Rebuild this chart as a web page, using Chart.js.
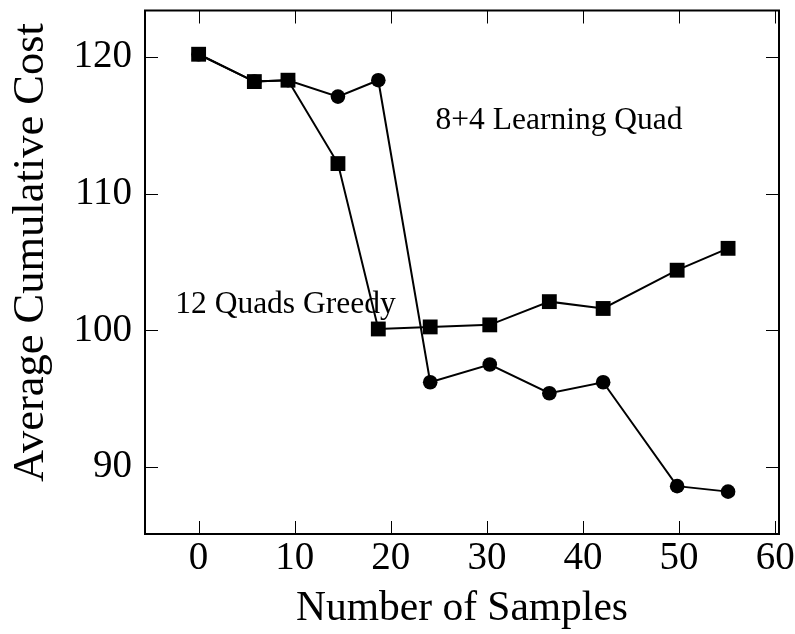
<!DOCTYPE html>
<html>
<head>
<meta charset="utf-8">
<script src="https://cdn.jsdelivr.net/npm/chart.js@4/dist/chart.umd.min.js"></script>
<style>
  html, body { margin: 0; padding: 0; background: #ffffff; }
  #wrap { width: 795px; height: 634px; }
</style>
</head>
<body>
<div id="wrap"><canvas id="cost" width="795" height="634"></canvas></div>
<script>
// Samples taken and the average cumulative cost reached by each strategy
const sampleCounts = [0, 5.8, 9.3, 14.5, 18.7, 24.1, 30.3, 36.5, 42.1, 49.8, 55.1];
const greedyCost   = [120.2, 118.2, 118.3, 112.2, 100.1, 100.25, 100.4, 102.1, 101.6, 104.4, 106.0];
const learningCost = [120.2, 118.2, 118.3, 117.1, 118.3, 96.2, 97.5, 95.4, 96.2, 88.6, 88.2];

const xTickValues = [0, 10, 20, 30, 40, 50, 60];
const yTickValues = [90, 100, 110, 120];

const seriesNames = ['12 Quads Greedy', '8+4 Learning Quad'];
const yAxisTitle = 'Average Cumulative Cost';

const SERIF = "'Liberation Serif', 'Times New Roman', serif";

function points(values) {
  return sampleCounts.map((x, i) => ({ x: x, y: values[i] }));
}

// Frame round the plot area with short inward ticks on all four sides
const framePlugin = {
  id: 'frame',
  beforeDatasetsDraw(chart) {
    const { ctx, chartArea: a, scales } = chart;
    ctx.save();
    ctx.strokeStyle = '#000';
    ctx.lineWidth = 1;
    const len = 13;
    ctx.beginPath();
    xTickValues.forEach(v => {
      const px = Math.round(scales.x.getPixelForValue(v)) + 0.5;
      ctx.moveTo(px, a.bottom); ctx.lineTo(px, a.bottom - len);
      ctx.moveTo(px, a.top); ctx.lineTo(px, a.top + len);
    });
    yTickValues.forEach(v => {
      const py = Math.round(scales.y.getPixelForValue(v)) + 0.5;
      ctx.moveTo(a.left, py); ctx.lineTo(a.left + len, py);
      ctx.moveTo(a.right, py); ctx.lineTo(a.right - len, py);
    });
    ctx.stroke();
    ctx.lineWidth = 2;
    ctx.strokeRect(a.left, a.top, a.right - a.left, a.bottom - a.top);
    ctx.restore();
  }
};

// Vertical axis title, set a little above the middle of the plot
const yTitlePlugin = {
  id: 'yTitle',
  afterDraw(chart, args, opts) {
    const { ctx } = chart;
    ctx.save();
    ctx.fillStyle = '#000';
    ctx.font = opts.font;
    ctx.translate(opts.baselineX, opts.centerY);
    ctx.rotate(-Math.PI / 2);
    ctx.textAlign = 'center';
    ctx.textBaseline = 'alphabetic';
    ctx.fillText(opts.text, 0, 0);
    ctx.restore();
  }
};

// Series names written inside the plot, anchored in data units
const notePlugin = {
  id: 'notes',
  afterDatasetsDraw(chart, args, opts) {
    const { ctx, scales } = chart;
    ctx.save();
    ctx.fillStyle = '#000';
    ctx.font = opts.font;
    ctx.textAlign = 'left';
    ctx.textBaseline = 'alphabetic';
    opts.items.forEach(n => {
      ctx.fillText(n.text, scales.x.getPixelForValue(n.x), scales.y.getPixelForValue(n.y));
    });
    ctx.restore();
  }
};

new Chart(document.getElementById('cost'), {
  type: 'line',
  data: {
    datasets: [
      {
        label: seriesNames[0],
        data: points(greedyCost),
        borderColor: '#000',
        backgroundColor: '#000',
        borderWidth: 2,
        pointStyle: 'rect',
        pointRadius: 10.5,
        pointBorderWidth: 0,
        tension: 0,
        clip: false
      },
      {
        label: seriesNames[1],
        data: points(learningCost),
        borderColor: '#000',
        backgroundColor: '#000',
        borderWidth: 2,
        pointStyle: 'circle',
        pointRadius: 7.3,
        pointBorderWidth: 0,
        tension: 0,
        clip: false
      }
    ]
  },
  options: {
    responsive: false,
    animation: false,
    devicePixelRatio: 1,
    layout: { padding: { left: 0, top: 10, right: 16, bottom: 0 } },
    plugins: {
      legend: { display: false },
      tooltip: { enabled: false },
      notes: {
        font: "31.5px " + SERIF,
        items: [
          { text: seriesNames[1], x: 24.66, y: 114.7 },
          { text: seriesNames[0], x: -2.43, y: 101.3 }
        ]
      },
      yTitle: {
        text: yAxisTitle,
        font: "44.5px " + SERIF,
        baselineX: 43,
        centerY: 252.5
      }
    },
    scales: {
      x: {
        type: 'linear',
        min: -5.58,
        max: 60.4,
        grid: { display: false, drawTicks: false },
        border: { display: false },
        afterBuildTicks: s => { s.ticks = xTickValues.map(v => ({ value: v })); },
        afterFit: s => { s.height = 100; s.paddingLeft = 0; s.paddingRight = 0; },
        ticks: {
          padding: 1,
          color: '#000',
          maxRotation: 0,
          font: { family: SERIF, size: 39 }
        },
        title: {
          display: true,
          text: 'Number of Samples',
          color: '#000',
          font: { family: SERIF, size: 41.5 },
          padding: { top: 0, bottom: 0 }
        }
      },
      y: {
        type: 'linear',
        min: 85.1,
        max: 123.4,
        grid: { display: false, drawTicks: false },
        border: { display: false },
        afterBuildTicks: s => { s.ticks = yTickValues.map(v => ({ value: v })); },
        afterFit: s => { s.width = 145; s.paddingTop = 0; s.paddingBottom = 0; },
        ticks: {
          padding: 13,
          color: '#000',
          font: { family: SERIF, size: 39 }
        },
        title: { display: false }
      }
    }
  },
  plugins: [framePlugin, yTitlePlugin, notePlugin]
});
</script>
</body>
</html>
